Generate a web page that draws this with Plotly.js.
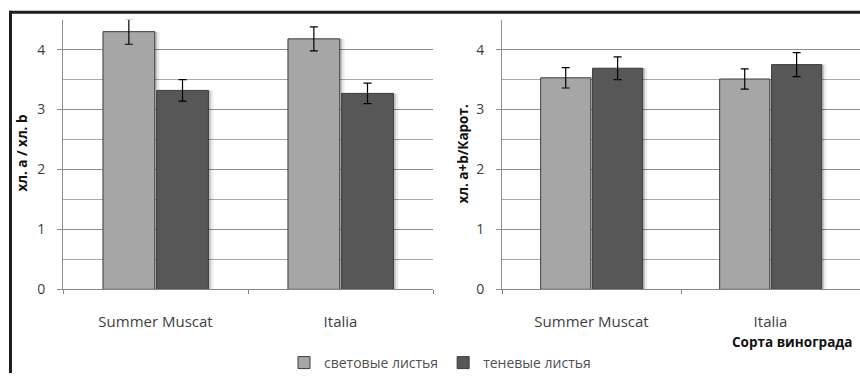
<!DOCTYPE html>
<html>
<head>
<meta charset="utf-8">
<script src="https://cdn.plot.ly/plotly-3.0.1.min.js"></script>
<style>
  html, body { margin: 0; padding: 0; background: #fff; }
  #chart { width: 860px; height: 379px; }
</style>
</head>
<body>
<div id="chart"></div>
<script>
// Grape varieties
const categories = ['Summer Muscat', 'Italia'];

// Chlorophyll a / chlorophyll b ratio
const abLight = [4.30, 4.18];
const abLightErr = [0.21, 0.20];
const abShade = [3.32, 3.27];
const abShadeErr = [0.18, 0.17];

// (chlorophyll a+b) / carotenoids ratio
const carLight = [3.53, 3.51];
const carLightErr = [0.17, 0.17];
const carShade = [3.69, 3.75];
const carShadeErr = [0.19, 0.20];

const seriesNames = ['световые листья', 'теневые листья'];
const yTicks = [0, 1, 2, 3, 4];

const W = 860, H = 379;
const px = v => v / W;
const py = v => 1 - v / H;

const LIGHT = '#a6a6a6';
const DARK = '#575757';
const EDGE = '#3c3c3c';
const FONT = 'Open Sans, Liberation Sans, sans-serif';
const BAR_W = 0.28;

function barTrace(x, y, err, color, name, xa, ya, offset, showlegend) {
  return {
    type: 'bar', x: x, y: y, name: name, xaxis: xa, yaxis: ya,
    width: BAR_W, offset: offset, showlegend: showlegend, legendgroup: name,
    marker: { color: color, line: { color: EDGE, width: 1 } },
    error_y: { type: 'data', array: err, visible: true, color: '#000', thickness: 1.2, width: 4 },
    hoverinfo: 'y'
  };
}

// soft drop shadow to the right of each bar
function shadowTrace(x, y, xa, ya, offset, alpha) {
  return {
    type: 'bar', x: x, y: y, xaxis: xa, yaxis: ya,
    width: BAR_W, offset: offset, showlegend: false, hoverinfo: 'skip',
    marker: { color: 'rgba(0,0,0,' + alpha + ')', line: { width: 0 } }
  };
}

const offL = -BAR_W - 0.004, offD = 0.006;
const data = [];
[['x', 'y', abLight, abShade], ['x2', 'y2', carLight, carShade]].forEach(function (p) {
  const xa = p[0], ya = p[1];
  [[p[2], offL], [p[3], offD]].forEach(function (s) {
    data.push(shadowTrace(categories, s[0], xa, ya, s[1] + 0.026, 0.08));
    data.push(shadowTrace(categories, s[0], xa, ya, s[1] + 0.013, 0.16));
  });
});
data.push(barTrace(categories, abLight, abLightErr, LIGHT, seriesNames[0], 'x', 'y', offL, true));
data.push(barTrace(categories, abShade, abShadeErr, DARK, seriesNames[1], 'x', 'y', offD, true));
data.push(barTrace(categories, carLight, carLightErr, LIGHT, seriesNames[0], 'x2', 'y2', offL, false));
data.push(barTrace(categories, carShade, carShadeErr, DARK, seriesNames[1], 'x2', 'y2', offD, false));

function xAxis(domain, anchor) {
  return {
    domain: domain, anchor: anchor, type: 'category',
    showline: true, linecolor: '#868686', linewidth: 1,
    ticks: 'outside', tickson: 'boundaries', ticklen: 4, tickcolor: '#868686',
    ticklabelstandoff: 19,
    tickfont: { family: FONT, size: 15, color: '#404040' },
    showgrid: false, zeroline: false, fixedrange: true
  };
}
function yAxis(anchor) {
  return {
    domain: [py(294), py(20)], anchor: anchor, range: [0, 4.5],
    tickmode: 'array', tickvals: yTicks,
    showgrid: true, gridcolor: '#8e8e8e', gridwidth: 1,
    minor: { dtick: 0.5, showgrid: true, gridcolor: '#a8a8a8', gridwidth: 1, ticks: '' },
    showline: true, linecolor: '#8e8e8e', linewidth: 1,
    ticks: 'outside', ticklen: 5, tickcolor: '#8e8e8e',
    ticklabelstandoff: 9,
    tickfont: { family: FONT, size: 14, color: '#404040' },
    zeroline: false, fixedrange: true
  };
}

const layout = {
  width: W, height: H,
  margin: { l: 0, r: 0, t: 0, b: 0 },
  paper_bgcolor: '#fff', plot_bgcolor: 'rgba(0,0,0,0)',
  barmode: 'overlay',
  showlegend: true,
  font: { family: FONT, color: '#404040' },
  xaxis: xAxis([px(63), px(433)], 'y'),
  yaxis: yAxis('x'),
  xaxis2: xAxis([px(502), 1], 'y2'),
  yaxis2: yAxis('x2'),
  legend: {
    orientation: 'h', x: px(440), xanchor: 'center', y: py(369), yanchor: 'middle',
    font: { family: FONT, size: 14, color: '#505050' },
    itemwidth: 30, tracegroupgap: 0, bgcolor: 'rgba(0,0,0,0)'
  },
  annotations: [
    { text: 'хл. a / хл. b', textangle: -90, xref: 'paper', yref: 'paper',
      x: px(22), y: py(156), xanchor: 'center', yanchor: 'middle', showarrow: false,
      font: { family: FONT, size: 13.5, color: '#111', weight: 'bold' } },
    { text: 'хл. a+b/Карот.', textangle: -90, xref: 'paper', yref: 'paper',
      x: px(463), y: py(157), xanchor: 'center', yanchor: 'middle', showarrow: false,
      font: { family: FONT, size: 13.5, color: '#111', weight: 'bold' } },
    { text: 'Сорта винограда', xref: 'paper', yref: 'paper',
      x: px(730), y: py(347), xanchor: 'left', yanchor: 'middle', showarrow: false,
      font: { family: FONT, size: 13.5, color: '#111', weight: 'bold' } }
  ],
  shapes: [
    { type: 'line', xref: 'paper', yref: 'paper', x0: px(10), x1: 1, y0: py(12.5), y1: py(12.5),
      line: { color: '#1e1e1e', width: 3 } },
    { type: 'line', xref: 'paper', yref: 'paper', x0: px(10.5), x1: px(10.5), y0: py(11), y1: 0,
      line: { color: '#1e1e1e', width: 3 } }
  ]
};

Plotly.newPlot('chart', data, layout, { displayModeBar: false, staticPlot: true });
</script>
</body>
</html>
